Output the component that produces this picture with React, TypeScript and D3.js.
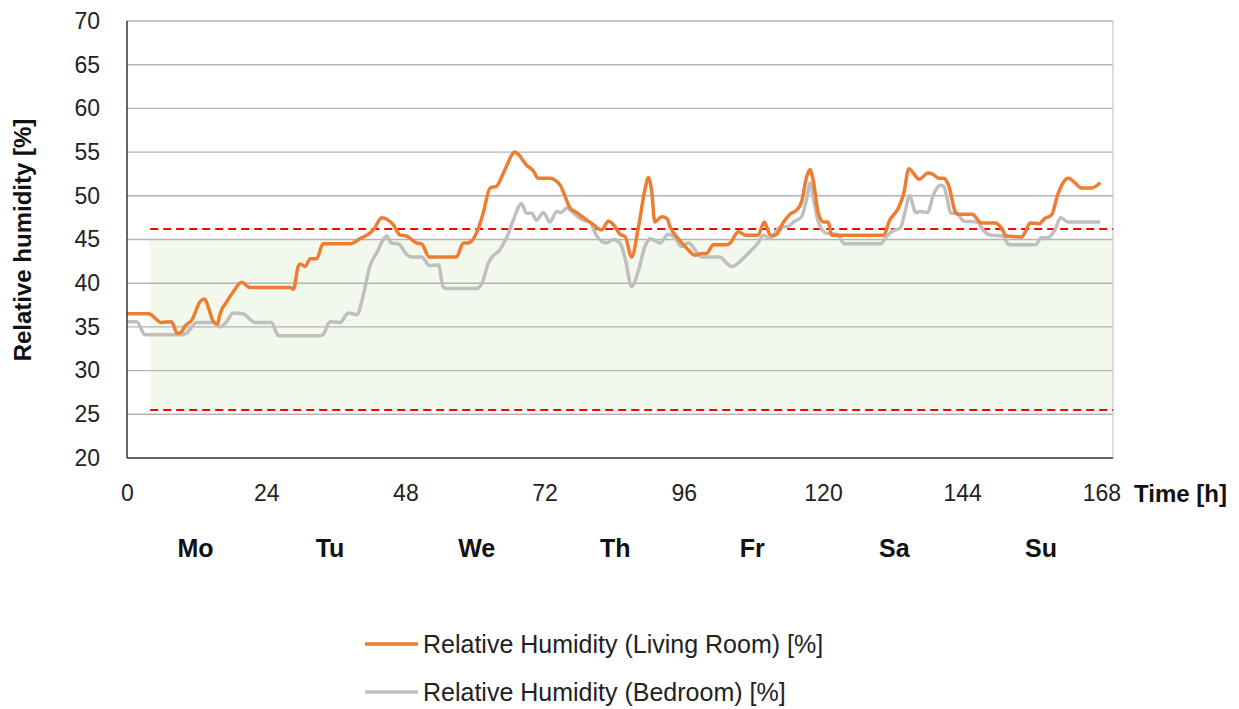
import React, { useEffect, useRef } from 'react';
import * as d3 from 'd3';

// hourly readings (hour, % RH)
const livingHours = [0, 3.7, 6, 7.7, 8.6, 9.2, 10, 11.2, 12.6, 13.4, 14, 14.9, 15.6, 16, 17.2, 18.3, 19.8, 21.2, 28.1, 28.7, 29.5, 29.9, 30.7, 31.6, 32.7, 33.8, 38.4, 40.2, 41.6, 42.5, 43.9, 45.9, 47.1, 48.2, 49.9, 50.8, 52.1, 56.8, 58, 58.8, 60.6, 61.4, 62.6, 63.7, 64.9, 66.9, 67.4, 68.9, 70, 70.9, 72.9, 74.7, 75.2, 76.4, 77.5, 78.7, 80.4, 81.8, 83, 84.1, 85, 85.9, 87, 88.2, 89.3, 89.9, 90.5, 91, 92.2, 93.1, 93.6, 95.3, 96.8, 97.9, 99.1, 99.9, 101.1, 103.4, 104, 105.4, 106.6, 108.8, 109.9, 110.9, 111.8, 113.2, 114.3, 115.5, 116.3, 117.2, 117.8, 118.3, 119.2, 120.1, 120.9, 121.5, 130.4, 131.5, 133, 133.9, 134.8, 136.6, 138.1, 138.8, 140, 140.8, 141.7, 142.8, 143.3, 145.7, 147.3, 149.7, 150.8, 151.6, 154.3, 154.9, 155.7, 157.3, 158.2, 159.4, 160.5, 161.4, 162.3, 163.4, 164.5, 166.3, 167.8];
const livingValues = [36.5, 36.5, 35.5, 35.6, 34.3, 34.3, 35.1, 35.8, 37.9, 38.2, 37.3, 35.6, 35.3, 36.4, 37.9, 39, 40.1, 39.5, 39.5, 39.3, 41.9, 42.2, 41.9, 42.8, 42.8, 44.5, 44.5, 45.1, 45.6, 46.1, 47.5, 46.7, 45.5, 45.4, 44.6, 44.5, 43, 43, 44.6, 44.6, 46.3, 48, 50.9, 51.1, 52.6, 55, 54.8, 53.5, 52.9, 52, 52, 51.2, 50.5, 48.6, 48.1, 47.5, 46.7, 46.1, 47.1, 46.5, 45.6, 45.3, 43, 46.5, 50.7, 52.1, 50.3, 47, 47.6, 47.4, 46.5, 44.9, 43.8, 43.2, 43.4, 43.4, 44.4, 44.4, 44.6, 45.9, 45.5, 45.5, 47, 45.5, 45.5, 47, 47.9, 48.4, 49.3, 52.2, 53, 51.8, 48, 47, 47, 45.5, 45.5, 47.2, 48.6, 50.2, 53.1, 51.9, 52.6, 52.5, 52, 52, 51.1, 48.2, 47.9, 47.9, 46.9, 46.9, 46.3, 45.4, 45.3, 45.9, 46.9, 46.8, 47.4, 47.8, 50.2, 51.5, 52, 51.5, 50.9, 50.9, 51.5];

const bedroomHours = [0, 1.7, 3.1, 9.4, 10.3, 12, 14.9, 16, 17.2, 18.3, 20, 22.1, 24.9, 26.1, 33.3, 33.9, 35, 36.7, 38.2, 39.6, 40.7, 41.9, 43, 44.8, 45.6, 46.8, 48.2, 49.1, 50.8, 52.2, 53.7, 54.5, 55, 60.3, 61.2, 62.3, 63.2, 64, 65.5, 66.6, 68, 68.9, 69.8, 70.6, 71.8, 72.9, 74.1, 74.9, 75.8, 77, 78.7, 79.8, 81, 82.7, 83.8, 85, 85.9, 87, 88.2, 89.3, 90.2, 91.9, 93.3, 94.5, 95.6, 96.8, 99.1, 102.2, 103.4, 104.3, 105.7, 107.4, 108.8, 109.7, 110.9, 112.6, 114, 114.9, 116.3, 117.2, 117.8, 118.3, 119.2, 120.6, 122.3, 123.8, 129.9, 131, 132.1, 133.3, 134.2, 134.9, 136, 136.8, 138, 139.1, 140.2, 140.8, 141.5, 142, 143, 144.3, 146.6, 147.7, 148.9, 151, 152.1, 156.7, 157.6, 158.7, 159.9, 161, 162.2, 167.8];
const bedroomValues = [35.6, 35.6, 34.1, 34.1, 34.3, 35.5, 35.5, 35, 35.6, 36.6, 36.5, 35.5, 35.5, 34, 34, 34.2, 35.6, 35.5, 36.6, 36.4, 38.5, 42, 43.4, 45.4, 44.6, 44.5, 43.3, 43, 43, 42, 42.1, 39.6, 39.4, 39.4, 40, 42.3, 43.2, 43.6, 45.3, 47.2, 49.1, 48, 48, 47.2, 48.1, 47, 48.2, 48.1, 48.6, 48, 47.2, 47, 45.4, 44.6, 45, 44.6, 42.8, 39.6, 41.5, 44.2, 45.1, 44.6, 45.6, 45.2, 44.2, 44.6, 43, 43, 42.3, 41.9, 42.5, 43.6, 44.6, 45.5, 45.1, 46.4, 46.5, 47, 47.6, 49.7, 51.5, 49.9, 47, 45.7, 45.6, 44.5, 44.5, 45.4, 46, 46.3, 48.3, 50, 48.1, 48.2, 48.1, 50.2, 51.2, 51.1, 49.4, 48, 48, 47.1, 47, 46, 45.5, 45.4, 44.4, 44.4, 45.2, 45.2, 46, 47.5, 47, 47];

const hourTicks = [0, 24, 48, 72, 96, 120, 144, 168];
const humidityTicks = [20, 25, 30, 35, 40, 45, 50, 55, 60, 65, 70];
const days = ['Mo', 'Tu', 'We', 'Th', 'Fr', 'Sa', 'Su'];
const dayLabelHours = [11.8, 35, 60.3, 84.2, 107.8, 132.3, 157.6];

// comfort band and its limits
const comfortStart = 4;
const comfortLow = 25.5;
const comfortHigh = 45;
const limitHigh = 46.2;

const series = [
  { name: 'Relative Humidity (Living Room) [%]', color: '#ED7D31', hours: livingHours, values: livingValues },
  { name: 'Relative Humidity (Bedroom) [%]', color: '#BFBFBF', hours: bedroomHours, values: bedroomValues },
];

const FONT = '"Liberation Sans", Arial, sans-serif';

const App = () => {
  const svgRef = useRef<SVGSVGElement>(null);

  useEffect(() => {
    const width = 1239;
    const height = 709;
    const left = 127, right = 1113, top = 21, bottom = 458;

    const svg = d3.select(svgRef.current)
      .attr('width', width)
      .attr('height', height);
    svg.selectAll('*').remove();

    const x = d3.scaleLinear().domain([0, 170]).range([left, right]);
    const y = d3.scaleLinear().domain([20, 70]).range([bottom, top]);

    // green comfort zone
    svg.append('rect')
      .attr('x', x(comfortStart))
      .attr('y', y(comfortHigh))
      .attr('width', right - x(comfortStart))
      .attr('height', y(comfortLow) - y(comfortHigh))
      .attr('fill', '#f3f8ec');

    // horizontal gridlines
    svg.append('g')
      .selectAll('line')
      .data(humidityTicks.filter(d => d > 20))
      .join('line')
      .attr('x1', left)
      .attr('x2', right)
      .attr('y1', d => y(d))
      .attr('y2', d => y(d))
      .attr('stroke', '#b4b4b4')
      .attr('stroke-width', 1.4);

    svg.append('line')
      .attr('x1', right).attr('x2', right)
      .attr('y1', top).attr('y2', bottom)
      .attr('stroke', '#d0d0d0')
      .attr('stroke-width', 1.4);

    // red limit lines
    [limitHigh, comfortLow].forEach(v => {
      svg.append('line')
        .attr('x1', x(comfortStart))
        .attr('x2', right)
        .attr('y1', y(v))
        .attr('y2', y(v))
        .attr('stroke', '#ff0000')
        .attr('stroke-width', 2)
        .attr('stroke-dasharray', '8,5');
    });

    // humidity lines
    const line = d3.line<[number, number]>()
      .x(d => x(d[0]))
      .y(d => y(d[1]))
      .curve(d3.curveMonotoneX);

    series.slice().reverse().forEach(s => {
      const pts: [number, number][] = s.hours.map((h, i) => [h, s.values[i]]);
      svg.append('path')
        .datum(pts)
        .attr('d', line)
        .attr('fill', 'none')
        .attr('stroke', s.color)
        .attr('stroke-width', 3.5)
        .attr('stroke-linejoin', 'round');
    });

    // axes lines
    svg.append('line')
      .attr('x1', left).attr('x2', left)
      .attr('y1', top).attr('y2', bottom)
      .attr('stroke', '#333').attr('stroke-width', 1.5);
    svg.append('line')
      .attr('x1', left).attr('x2', right)
      .attr('y1', bottom).attr('y2', bottom)
      .attr('stroke', '#333').attr('stroke-width', 1.5);

    const yAxis = svg.append('g')
      .attr('transform', `translate(${left},0)`)
      .call(d3.axisLeft(y).tickValues(humidityTicks).tickSize(0).tickPadding(27));
    yAxis.select('.domain').remove();
    yAxis.selectAll('text')
      .style('font-family', FONT)
      .style('font-size', '23px')
      .attr('fill', '#222');

    const xAxis = svg.append('g')
      .attr('transform', `translate(0,${bottom})`)
      .call(d3.axisBottom(x).tickValues(hourTicks).tickSize(0).tickPadding(27));
    xAxis.select('.domain').remove();
    xAxis.selectAll('text')
      .style('font-family', FONT)
      .style('font-size', '23px')
      .attr('fill', '#222');

    svg.append('text')
      .attr('x', 1134)
      .attr('y', 502)
      .style('font-family', FONT)
      .style('font-size', '24px')
      .style('font-weight', 'bold')
      .attr('fill', '#111')
      .text('Time [h]');

    svg.selectAll('.day')
      .data(days)
      .join('text')
      .attr('class', 'day')
      .attr('x', (d, i) => x(dayLabelHours[i]))
      .attr('y', 557)
      .attr('text-anchor', 'middle')
      .style('font-family', FONT)
      .style('font-size', '25px')
      .style('font-weight', 'bold')
      .attr('fill', '#111')
      .text(d => d);

    svg.append('text')
      .attr('transform', 'rotate(-90)')
      .attr('x', -240)
      .attr('y', 31)
      .attr('text-anchor', 'middle')
      .style('font-family', FONT)
      .style('font-size', '24px')
      .style('font-weight', 'bold')
      .attr('fill', '#111')
      .text('Relative humidity [%]');

    // legend
    const legend = svg.append('g');
    series.forEach((s, i) => {
      const ly = 644 + i * 48;
      legend.append('line')
        .attr('x1', 365).attr('x2', 418)
        .attr('y1', ly).attr('y2', ly)
        .attr('stroke', s.color)
        .attr('stroke-width', 3.5);
      legend.append('text')
        .attr('x', 423)
        .attr('y', ly + 9)
        .style('font-family', FONT)
        .style('font-size', '25px')
        .attr('fill', '#222')
        .text(s.name);
    });
  }, []);

  return <svg ref={svgRef} style={{ display: 'block', position: 'absolute', left: 0, top: 0 }}></svg>;
};

export default App;
